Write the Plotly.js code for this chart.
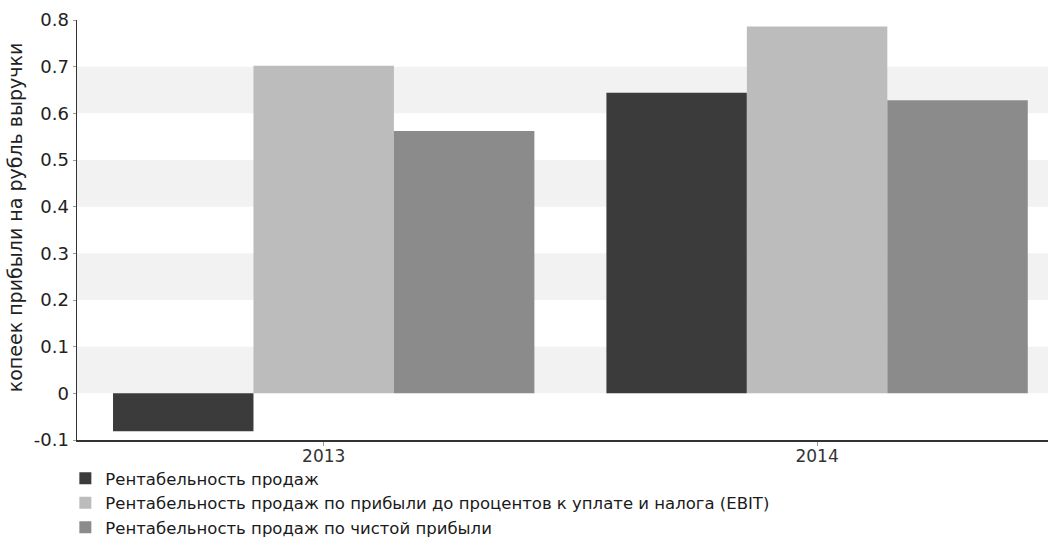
<!DOCTYPE html>
<html>
<head>
<meta charset="utf-8">
<script src="https://cdn.plot.ly/plotly-3.0.1.min.js"></script>
<style>html,body{margin:0;padding:0;background:#fff;}#chart{width:1052px;height:554px;}</style>
</head>
<body>
<div id="chart"></div>
<script>
const years = ['2013', '2014'];
const seriesNames = [
  'Рентабельность продаж',
  'Рентабельность продаж по прибыли до процентов к уплате и налога (EBIT)',
  'Рентабельность продаж по чистой прибыли'
];
const salesMargin = [-0.081, 0.644];
const ebitMargin = [0.702, 0.786];
const netMargin = [0.562, 0.628];
const tickVals = [-0.1, 0, 0.1, 0.2, 0.3, 0.4, 0.5, 0.6, 0.7, 0.8];
const tickText = ['-0.1', '0', '0.1', '0.2', '0.3', '0.4', '0.5', '0.6', '0.7', '0.8'];
const bandRanges = [[0.6, 0.7], [0.4, 0.5], [0.2, 0.3], [0.0, 0.1]];
const yTitle = 'копеек прибыли на рубль выручки';

const colors = ['#3b3b3b', '#bcbcbc', '#8b8b8b'];
const values = [salesMargin, ebitMargin, netMargin];

const traces = values.map((v, i) => ({
  type: 'bar',
  x: years,
  y: v,
  name: seriesNames[i],
  marker: {color: colors[i], line: {width: 0}}
}));

const shapes = bandRanges.map(r => ({
  type: 'rect', xref: 'paper', yref: 'y', x0: 0, x1: 1, y0: r[0], y1: r[1],
  fillcolor: '#f2f2f2', line: {width: 0}, layer: 'below'
}));

const layout = {
  width: 1052, height: 554,
  margin: {l: 77, r: 4, t: 20, b: 114},
  paper_bgcolor: '#fff', plot_bgcolor: '#fff',
  font: {family: 'DejaVu Sans, Verdana, sans-serif', size: 16, color: '#222'},
  barmode: 'group',
  bargap: 0.146,
  bargroupgap: 0,
  showlegend: true,
  legend: {
    orientation: 'v', x: -0.012, xanchor: 'left', y: -0.05, yanchor: 'top',
    font: {size: 16.5, color: '#1a1a1a'}, itemwidth: 30, tracegroupgap: 0,
    bgcolor: 'rgba(0,0,0,0)'
  },
  xaxis: {
    type: 'category',
    range: [-0.5, 1.468],
    showline: true, linecolor: '#333', linewidth: 1.5,
    ticks: 'outside', ticklen: 4, tickcolor: '#999',
    ticklabelstandoff: -4,
    showgrid: false, tickfont: {size: 17, color: '#333'}
  },
  yaxis: {
    range: [-0.1, 0.8],
    tickvals: tickVals, ticktext: tickText,
    showline: true, linecolor: '#333', linewidth: 1.5,
    ticks: 'outside', ticklen: 3, tickcolor: '#999',
    showgrid: false, zeroline: false,
    tickfont: {size: 18, color: '#222'}
  },
  annotations: [{
    text: yTitle, textangle: -90, showarrow: false,
    xref: 'paper', yref: 'paper', x: -0.063, xanchor: 'center', y: 0.53, yanchor: 'middle',
    font: {size: 19, color: '#222'}
  }],
  shapes: shapes
};

Plotly.newPlot('chart', traces, layout, {displayModeBar: false, staticPlot: true});
</script>
</body>
</html>
